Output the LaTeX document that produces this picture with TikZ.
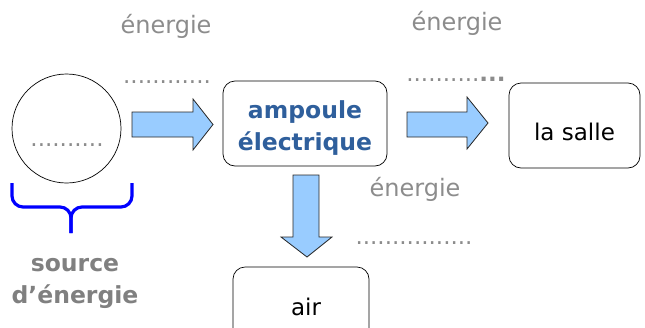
\documentclass[tikz,border=0pt]{standalone}
\usepackage{fontspec}
\setmainfont{DejaVu Sans}
\usepackage{xcolor}
\usepackage{tikz}
\usetikzlibrary{positioning}
\definecolor{arrowfill}{HTML}{99CCFF}
\definecolor{labelgray}{HTML}{8C8C8C}
\definecolor{sourcegray}{HTML}{808080}
\definecolor{titleblue}{HTML}{2F5F9C}

\begin{document}
\begin{tikzpicture}[x=1pt,y=-1pt,font=\fontsize{23}{32}\selectfont,
 box/.style={draw=black,line width=0.7pt,rounded corners=12pt,align=center,minimum height=85pt,inner sep=0pt},
 energy/.style={text=labelgray,inner sep=0pt,font=\fontsize{24}{32}\selectfont},
 dots/.style={text=labelgray,anchor=base,inner sep=0pt},
 blockarr/.style={draw=black!85,fill=arrowfill,line width=0.8pt,line join=miter},
 brace/.style={draw=blue,line width=3.2pt,rounded corners=11pt}]
\useasboundingbox (0,0) rectangle (645,327);
% source d'energie
\node[circle,draw=black,line width=0.7pt,minimum size=109pt,inner sep=0pt] (source) at (66.5,128.5) {};
\node[dots] (sourcedots) at (67,146) {..........};
\draw[brace] (12,183) -- (12,207) -- (71,207) -- (71,233);
\draw[brace] (132,183) -- (132,207) -- (71,207) -- (71,233);
\node[text=sourcegray,font=\fontsize{23.5}{32}\selectfont\bfseries,align=center,inner sep=0pt] (sourcelabel) at (75,283) {source\\d’énergie};
% boxes
\node[box,minimum width=164pt,text=titleblue,text height=59pt,font=\fontsize{23.5}{32}\selectfont\bfseries] (ampoule) at (305,123.5) {ampoule\\électrique};
\node[box,minimum width=131pt,text height=30pt] (salle) at (574.5,125.5) {la salle};
\node[box,minimum width=136pt,minimum height=80pt] (air) at (301,307) {\hspace{10pt}air};
% block arrows
\draw[blockarr] (132,112) -- (193,112) -- (193,99) -- (213,124.5) -- (193,150) -- (193,137) -- (132,137) -- cycle;
\draw[blockarr] (407,112) -- (467,112) -- (467,97) -- (488,123) -- (467,149) -- (467,137) -- (407,137) -- cycle;
\draw[blockarr] (293,175) -- (319,175) -- (319,237) -- (332,237) -- (307,257) -- (281,237) -- (293,237) -- cycle;
% energie labels
\node[energy] (energyA) at (166,26) {énergie};
\node[energy] (energyB) at (457,23) {énergie};
\node[energy] (energyC) at (415,189) {énergie};
\node[dots] (dotsA) at (167,83) {............};
\node[dots] (dotsB) at (456,81) {..........\textbf{...}};
\node[dots] (dotsC) at (414,244) {................};
\end{tikzpicture}
\end{document}
